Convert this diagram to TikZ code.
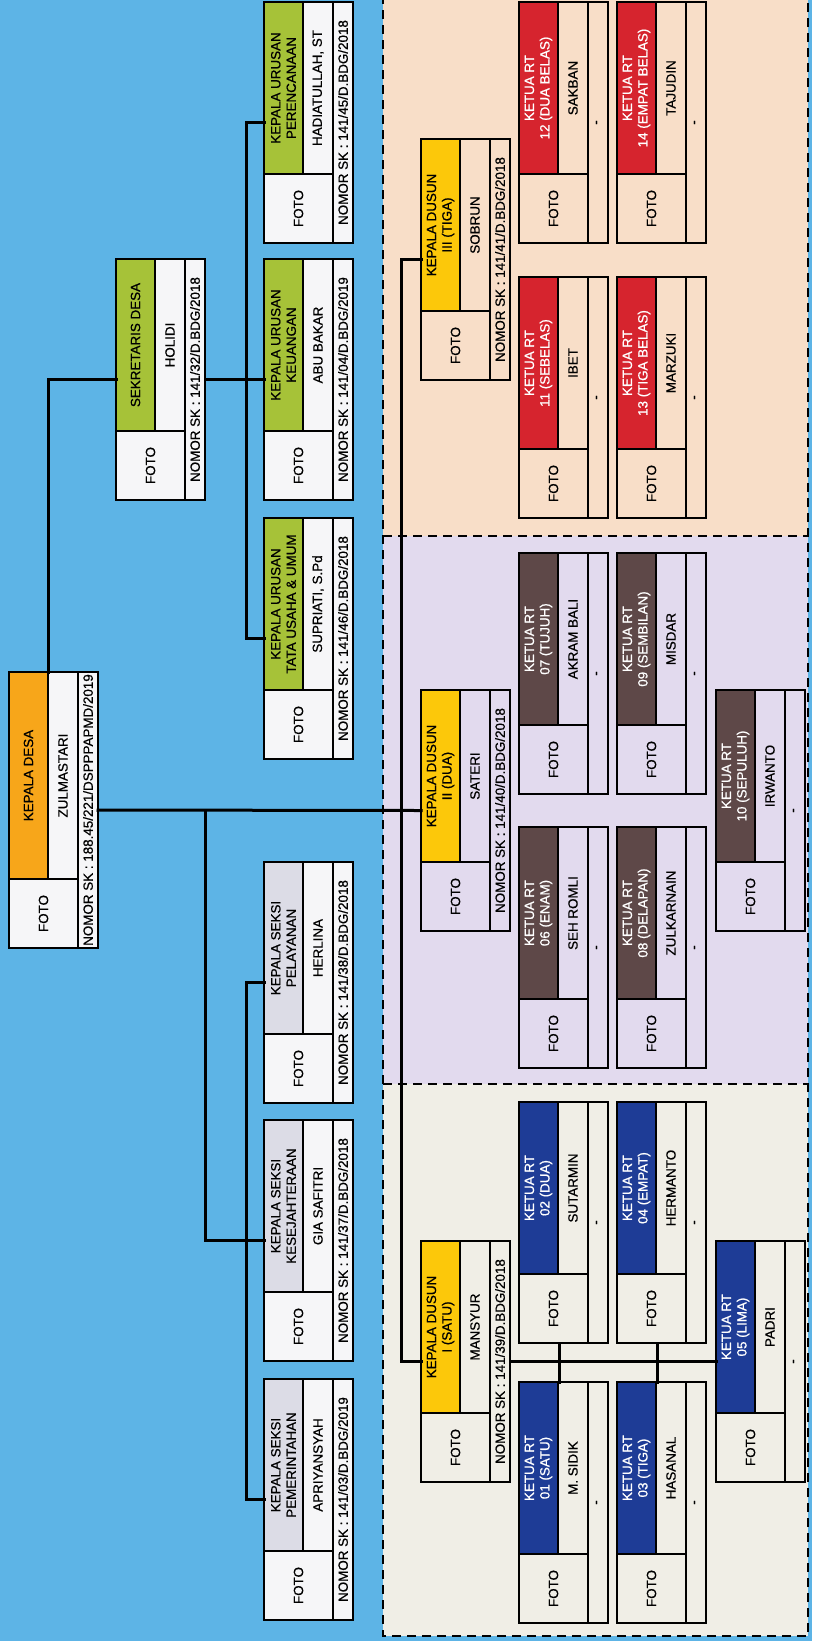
\documentclass[tikz,border=0pt]{standalone}
\usepackage{fontspec}
\setmainfont{Liberation Sans}[FakeBold=0.7]
\usetikzlibrary{calc}
\definecolor{bgblue}{RGB}{93,180,230}
\definecolor{panA}{RGB}{240,238,230}
\definecolor{panB}{RGB}{226,218,238}
\definecolor{panC}{RGB}{248,222,200}
\definecolor{kdorange}{RGB}{247,166,26}
\definecolor{kaurgreen}{RGB}{166,194,56}
\definecolor{kasigrey}{RGB}{220,220,230}
\definecolor{dusunyellow}{RGB}{252,200,10}
\definecolor{rtblue}{RGB}{30,60,150}
\definecolor{rtbrown}{RGB}{94,72,72}
\definecolor{rtred}{RGB}{214,36,46}
\definecolor{cellwhite}{RGB}{246,246,248}
\tikzset{
  outerline/.style={line width=2.8pt, draw=black},
  innerline/.style={line width=2pt, draw=black},
  conn/.style={line width=3pt, draw=black, line cap=rect},
  txt/.style={rotate=90, align=center, inner sep=0pt, font=\fontsize{13.4}{15.5}\selectfont},
  panelborder/.style={line width=2pt, draw=black, dash pattern=on 9pt off 6pt},
  cardbody/.style={draw=none, anchor=north west, minimum width=89pt, inner sep=0pt, outer sep=0pt},
}
% #1 name, #2 x, #3 y, #4 title fill, #5 title text colour, #6 title, #7 person, #8 SK line
\newcommand{\orgcard}[8]{%
  \node[cardbody, fill=\BF, minimum height=\CL pt] (#1) at (#2,#3) {};
  \fill[#4] (#2,#3) rectangle (#2+39,#3+\CT);
  \draw[innerline] (#2+39,#3) -- (#2+39,#3+\CT);
  \draw[innerline] (#2,#3+\CT) -- (#2+69,#3+\CT);
  \draw[innerline] (#2+69,#3) -- (#2+69,#3+\CL);
  \draw[outerline] (#1.north west) rectangle (#1.south east);
  \node[txt, text=#5] (#1t) at (#2+19.5,{#3+\CT/2}) {#6};
  \node[txt] (#1n) at (#2+54,{#3+\CT/2}) {#7};
  \node[txt] (#1f) at (#2+34.5,{#3+(\CT+\CL)/2}) {FOTO};
  \node[txt] (#1s) at (#2+79,{#3+\CL/2}) {#8};
}
\begin{document}
\begin{tikzpicture}[x=1pt,y=-1pt]
\useasboundingbox (0,0) rectangle (812,1641);
\fill[bgblue] (0,0) rectangle (812,1641);
\fill[panC] (383,-5) rectangle (808,536);
\fill[panB] (383,536) rectangle (808,1084);
\fill[panA] (383,1084) rectangle (808,1636);
\draw[panelborder] (383,-5) rectangle (808,1636);
\draw[panelborder] (383,536) -- (808,536);
\draw[panelborder] (383,1084) -- (808,1084);

% Kepala Desa
\def\BF{cellwhite}\def\CL{276}\def\CT{207}
\orgcard{kd}{9}{672}{kdorange}{black}{KEPALA DESA}{ZULMASTARI}{NOMOR SK : 188.45/221/DSPPPAPMD/2019}

\def\CL{241}\def\CT{172}
\orgcard{sek}{116}{259}{kaurgreen}{black}{SEKRETARIS DESA}{HOLIDI}{NOMOR SK : 141/32/D.BDG/2018}
\orgcard{kaur1}{264}{2}{kaurgreen}{black}{KEPALA URUSAN\\PERENCANAAN}{HADIATULLAH, ST}{NOMOR SK : 141/45/D.BDG/2018}
\orgcard{kaur2}{264}{259}{kaurgreen}{black}{KEPALA URUSAN\\KEUANGAN}{ABU BAKAR}{NOMOR SK : 141/04/D.BDG/2019}
\orgcard{kaur3}{264}{518}{kaurgreen}{black}{KEPALA URUSAN\\TATA USAHA \& UMUM}{SUPRIATI, S.Pd}{NOMOR SK : 141/46/D.BDG/2018}
\orgcard{kasi3}{264}{862}{kasigrey}{black}{KEPALA SEKSI\\PELAYANAN}{HERLINA}{NOMOR SK : 141/38/D.BDG/2018}
\orgcard{kasi2}{264}{1120}{kasigrey}{black}{KEPALA SEKSI\\KESEJAHTERAAN}{GIA SAFITRI}{NOMOR SK : 141/37/D.BDG/2018}
\orgcard{kasi1}{264}{1379}{kasigrey}{black}{KEPALA SEKSI\\PEMERINTAHAN}{APRIYANSYAH}{NOMOR SK : 141/03/D.BDG/2019}

% Dusun III
\def\BF{panC}
\orgcard{dusun3}{421}{139}{dusunyellow}{black}{KEPALA DUSUN\\III (TIGA)}{SOBRUN}{NOMOR SK : 141/41/D.BDG/2018}
\orgcard{rt12}{519}{2}{rtred}{white}{KETUA RT\\12 (DUA BELAS)}{SAKBAN}{-}
\orgcard{rt14}{617}{2}{rtred}{white}{KETUA RT\\14 (EMPAT BELAS)}{TAJUDIN}{-}
\orgcard{rt11}{519}{277}{rtred}{white}{KETUA RT\\11 (SEBELAS)}{IBET}{-}
\orgcard{rt13}{617}{277}{rtred}{white}{KETUA RT\\13 (TIGA BELAS)}{MARZUKI}{-}

% Dusun II
\def\BF{panB}
\orgcard{dusun2}{421}{690}{dusunyellow}{black}{KEPALA DUSUN\\II (DUA)}{SATERI}{NOMOR SK : 141/40/D.BDG/2018}
\orgcard{rt07}{519}{553}{rtbrown}{white}{KETUA RT\\07 (TUJUH)}{AKRAM BALI}{-}
\orgcard{rt09}{617}{553}{rtbrown}{white}{KETUA RT\\09 (SEMBILAN)}{MISDAR}{-}
\orgcard{rt06}{519}{827}{rtbrown}{white}{KETUA RT\\06 (ENAM)}{SEH ROMLI}{-}
\orgcard{rt08}{617}{827}{rtbrown}{white}{KETUA RT\\08 (DELAPAN)}{ZULKARNAIN}{-}
\orgcard{rt10}{716}{690}{rtbrown}{white}{KETUA RT\\10 (SEPULUH)}{IRWANTO}{-}

% Dusun I
\def\BF{panA}
\orgcard{dusun1}{421}{1241}{dusunyellow}{black}{KEPALA DUSUN\\I (SATU)}{MANSYUR}{NOMOR SK : 141/39/D.BDG/2018}
\orgcard{rt02}{519}{1102}{rtblue}{white}{KETUA RT\\02 (DUA)}{SUTARMIN}{-}
\orgcard{rt04}{617}{1102}{rtblue}{white}{KETUA RT\\04 (EMPAT)}{HERMANTO}{-}
\orgcard{rt01}{519}{1382}{rtblue}{white}{KETUA RT\\01 (SATU)}{M. SIDIK}{-}
\orgcard{rt03}{617}{1382}{rtblue}{white}{KETUA RT\\03 (TIGA)}{HASANAL}{-}
\orgcard{rt05}{716}{1241}{rtblue}{white}{KETUA RT\\05 (LIMA)}{PADRI}{-}

% connectors
\coordinate (kasij) at (205,810.5);
\draw[conn] ($(kd.north west)+(39,0)$) |- (sek.west);
\draw[conn] (sek.east) -- (kaur2.west);
\draw[conn] (kaur1.west) -- ++(-18,0) |- (kaur3.west);
\draw[conn] (kd.east) -- (dusun2.west);
\draw[conn] (kasij) |- (kasi2.west);
\draw[conn] (kasi3.west) -- ++(-18,0) |- (kasi1.west);
\draw[conn] (dusun3.west) -- ++(-20,0) |- (dusun1.west);
\draw[conn] (dusun1.east) -- (rt05.west);
\draw[conn] ($(rt02.south west)+(40,0)$) -- ($(rt01.north west)+(40,0)$);
\draw[conn] ($(rt04.south west)+(40,0)$) -- ($(rt03.north west)+(40,0)$);
\end{tikzpicture}
\end{document}
